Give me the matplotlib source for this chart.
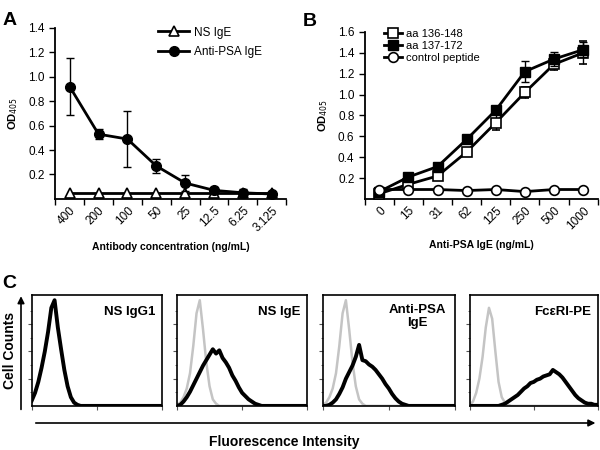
import numpy as np
import matplotlib.pyplot as plt
from matplotlib.patches import FancyArrowPatch

plt.rcParams['font.family'] = ['Liberation Sans', 'DejaVu Sans']

# ===== PANEL A DATA =====
conc_a = ["400", "200", "100", "50", "25", "12.5", "6.25", "3.125"]
ns_ige = [0.045, 0.045, 0.045, 0.045, 0.045, 0.045, 0.045, 0.045]
anti_psa = [0.92, 0.53, 0.49, 0.27, 0.13, 0.07, 0.05, 0.04]
anti_psa_err = [0.23, 0.04, 0.23, 0.055, 0.065, 0.03, 0.03, 0.01]

# ===== PANEL B DATA =====
conc_b = ["0", "15", "31", "62", "125", "250", "500", "1000"]
aa136 = [0.05, 0.14, 0.22, 0.45, 0.73, 1.02, 1.29, 1.40]
aa136_err = [0.01, 0.01, 0.02, 0.02, 0.07, 0.05, 0.05, 0.11]
aa137 = [0.07, 0.21, 0.31, 0.57, 0.85, 1.22, 1.34, 1.43]
aa137_err = [0.01, 0.02, 0.02, 0.02, 0.03, 0.10, 0.07, 0.07]
ctrl = [0.09, 0.09, 0.09, 0.08, 0.09, 0.07, 0.09, 0.09]

# ===== PANEL C DATA (histogram heights, bins every 0.1 log decade, 0..4) =====
log_fl = np.arange(41) / 10
iso_gray = [.01, .03, .08, .16, .30, .55, .85, .97, .70, .40, .18, .06, .02] + [0] * 28
iso_gray4 = [.01, .04, .12, .25, .45, .72, .90, .80, .50, .22, .08, .03, .01] + [0] * 28
h_igg1 = [.05, .12, .22, .35, .50, .68, .90, .97, .72, .52, .33, .18, .08, .03, .01] + [0] * 26
h_nsige = [0, .01, .04, .08, .13, .19, .25, .31, .37, .42, .47, .52, .48, .51, .44, .40,
           .35, .28, .23, .17, .12, .09, .06, .04, .02, .01] + [0] * 15
h_antipsa = [0, 0, .01, .03, .06, .11, .17, .25, .31, .37, .45, .56, .42, .41, .38, .36,
             .33, .29, .25, .20, .16, .11, .07, .04, .02, .01] + [0] * 15
h_fceri = [0] * 10 + [.01, .02, .04, .06, .08, .10, .13, .16, .18, .21, .22, .24, .25, .27,
                      .28, .29, .33, .31, .29, .26, .22, .18, .14, .10, .07, .05, .03, .02,
                      .02, .01, .01]

hist_names = ["NS IgG1", "NS IgE", "Anti-PSA\nIgE", "FcεRI-PE"]
hist_black = [h_igg1, h_nsige, h_antipsa, h_fceri]
hist_gray = [None, iso_gray, iso_gray, iso_gray4]

fig = plt.figure(figsize=(6, 4.5), dpi=100)


def style_line_axes(ax, labels, ymax, yticks):
    n = len(labels)
    ax.set_xlim(-0.5, n - 0.5)
    ax.set_ylim(0, ymax)
    ax.spines['top'].set_visible(False)
    ax.spines['right'].set_visible(False)
    ax.spines['left'].set_linewidth(1.3)
    ax.spines['bottom'].set_linewidth(1.3)
    # tick marks sit between categories, labels under them
    ax.set_xticks(np.arange(n + 1) - 0.5)
    ax.set_xticklabels([])
    ax.set_xticks(np.arange(n), minor=True)
    ax.set_xticklabels(labels, minor=True, rotation=45, ha='right',
                       rotation_mode='anchor', fontsize=8.5)
    ax.tick_params(axis='x', which='minor', length=0, pad=4)
    ax.tick_params(axis='x', which='major', length=4, width=1)
    ax.set_yticks(yticks)
    ax.set_yticklabels([f"{t:.1f}" for t in yticks], fontsize=8.5)
    ax.tick_params(axis='y', length=4, width=1)


# ===== PANEL A =====
axA = fig.add_axes([0.092, 0.558, 0.385, 0.38])
xa = np.arange(len(conc_a))
lnA1, = axA.plot(xa, ns_ige, color='black', lw=2, marker='^', ms=7, mfc='white',
                 mec='black', mew=1.2, zorder=3)
ebA = axA.errorbar(xa, anti_psa, yerr=anti_psa_err, color='black', lw=2, marker='o',
                   ms=7, capsize=3, elinewidth=1, capthick=1, zorder=4)
style_line_axes(axA, conc_a, 1.4, [0.2, 0.4, 0.6, 0.8, 1.0, 1.2, 1.4])
axA.set_ylabel('OD$_{405}$', fontsize=8, fontweight='bold', labelpad=6)
axA.set_xlabel('Antibody concentration (ng/mL)', fontsize=7.5, fontweight='bold', labelpad=6)
axA.legend([lnA1, ebA[0]], ['NS IgE', 'Anti-PSA IgE'], loc='upper left',
           bbox_to_anchor=(0.40, 1.07), frameon=False, fontsize=8.5,
           handlelength=2.6, labelspacing=0.6, handletextpad=0.4)

# ===== PANEL B =====
axB = fig.add_axes([0.608, 0.558, 0.388, 0.371])
xb = np.arange(len(conc_b))
eb136 = axB.errorbar(xb, aa136, yerr=aa136_err, color='black', lw=2, marker='s', ms=7,
                     mfc='white', mec='black', mew=1.2, capsize=3, elinewidth=1,
                     capthick=1, zorder=3)
eb137 = axB.errorbar(xb, aa137, yerr=aa137_err, color='black', lw=2, marker='s', ms=7,
                     capsize=3, elinewidth=1, capthick=1, zorder=4)
lnC, = axB.plot(xb, ctrl, color='black', lw=2, marker='o', ms=7, mfc='white',
                mec='black', mew=1.2, zorder=5)
style_line_axes(axB, conc_b, 1.6, [0.2, 0.4, 0.6, 0.8, 1.0, 1.2, 1.4, 1.6])
axB.set_ylabel('OD$_{405}$', fontsize=8, fontweight='bold', labelpad=6)
axB.set_xlabel('Anti-PSA IgE (ng/mL)', fontsize=7.5, fontweight='bold', labelpad=6)
axB.legend([eb136[0], eb137[0], lnC], ['aa 136-148', 'aa 137-172', 'control peptide'],
           loc='upper left', bbox_to_anchor=(0.04, 1.08), frameon=False, fontsize=8,
           handlelength=1.6, labelspacing=0.2, handletextpad=0.4)

# ===== PANEL C =====
lefts = [0.053, 0.295, 0.538, 0.783]
widths = [0.217, 0.217, 0.22, 0.213]
for name, h_black, h_gray, left, w in zip(hist_names, hist_black, hist_gray, lefts, widths):
    ax = fig.add_axes([left, 0.098, w, 0.247])
    if h_gray is not None:
        ax.plot(10 ** log_fl, h_gray, color='#c4c4c4', lw=1.8)
    ax.plot(10 ** log_fl, h_black, color='black', lw=2.8)
    ax.set_xscale('log')
    ax.set_xlim(1, 1e4)
    ax.set_ylim(0, 1.02)
    ax.set_yticks([0.25, 0.5, 0.75])
    ax.set_yticks(np.arange(1, 8) / 8, minor=True)
    ax.set_yticklabels([])
    ax.xaxis.set_major_formatter(plt.NullFormatter())
    ax.xaxis.set_minor_formatter(plt.NullFormatter())
    ax.tick_params(which='major', length=3, width=0.8, color='#555555')
    ax.tick_params(which='minor', length=1.5, width=0.6, color='#555555')
    for s in ax.spines.values():
        s.set_linewidth(1.2)
    if '\n' in name:
        ax.text(0.72, 0.92, name, transform=ax.transAxes, ha='center', va='top',
                fontsize=9.5, fontweight='bold', linespacing=1.2)
    else:
        ax.text(0.95, 0.9, name, transform=ax.transAxes, ha='right', va='top',
                fontsize=9.5, fontweight='bold')

# arrows and shared labels
fig.add_artist(FancyArrowPatch((0.035, 0.084), (0.035, 0.348), transform=fig.transFigure,
                               arrowstyle='-|>', mutation_scale=10, lw=1.2, color='black'))
fig.add_artist(FancyArrowPatch((0.055, 0.06), (0.997, 0.06), transform=fig.transFigure,
                               arrowstyle='-|>', mutation_scale=10, lw=1.2, color='black'))
fig.text(0.017, 0.222, 'Cell Counts', rotation=90, ha='center', va='center',
         fontsize=10, fontweight='bold')
fig.text(0.473, 0.018, 'Fluorescence Intensity', ha='center', va='center',
         fontsize=10, fontweight='bold')

# panel letters
fig.text(0.005, 0.955, 'A', fontsize=14, fontweight='bold', va='center')
fig.text(0.505, 0.952, 'B', fontsize=14, fontweight='bold', va='center')
fig.text(0.004, 0.37, 'C', fontsize=14, fontweight='bold', va='center')

fig.savefig('out.png', dpi=100)
